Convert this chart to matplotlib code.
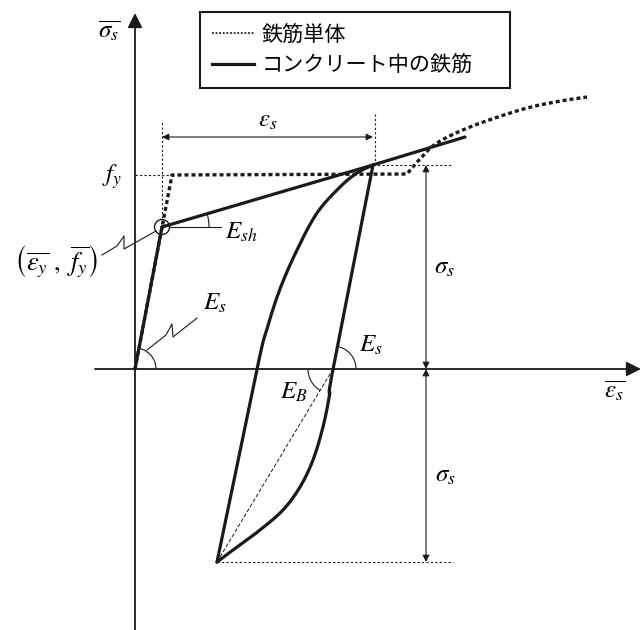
import numpy as np
import matplotlib
matplotlib.use('Agg')
import matplotlib.pyplot as plt
from matplotlib.patches import Arc, Circle
from matplotlib.lines import Line2D

plt.rcParams['font.family'] = ['Noto Sans CJK JP', 'DejaVu Sans']
plt.rcParams['mathtext.fontset'] = 'stix'

# ---------------- data (normalised strain / stress units) ----------------
# bar in concrete (solid): elastic + hardening branch
conc_elastic_x = [0.0, 0.27]
conc_elastic_y = [0.0, 1.42]
conc_hard_x = [0.27, 2.38, 3.30]
conc_hard_y = [1.42, 2.04, 2.32]
# unloading branch: straight elastic part, then curved (Bauschinger) part
unload_line_x = [2.38, 1.98]
unload_line_y = [2.04, 0.00]
unload_curve_x = [1.98, 1.945, 1.88, 1.78, 1.65, 1.48, 1.25, 1.02, 0.82]
unload_curve_y = [0.00, -0.26, -0.58, -0.91, -1.18, -1.41, -1.61, -1.78, -1.93]
# reloading branch: straight part, then curve into the peak
reload_line_x = [0.82, 1.22]
reload_line_y = [-1.93, 0.00]
reload_curve_x = [1.22, 1.32, 1.45, 1.62, 1.82, 2.05, 2.22, 2.38]
reload_curve_y = [0.00, 0.40, 0.80, 1.19, 1.56, 1.82, 1.96, 2.04]
# bare bar (dotted)
bare_x = [0.0, 0.37, 2.72, 2.85, 3.02, 3.35, 3.85, 4.20, 4.52]
bare_y = [0.0, 1.94, 1.95, 2.10, 2.26, 2.42, 2.59, 2.67, 2.72]

yield_pt = (0.27, 1.42)
peak_pt = (2.38, 2.04)
reversal_pt = (0.82, -1.93)
unload_zero_x = 1.98
fy_level = 1.94
dim_x = 2.91

legend_labels = ['鉄筋単体', 'コンクリート中の鉄筋']

# leader zigzags
leader_es_x = [0.12, 0.31, 0.37, 0.38, 0.62]
leader_es_y = [0.19, 0.34, 0.45, 0.32, 0.51]
leader_y_x = [-0.33, -0.18, -0.11, -0.11, 0.21]
leader_y_y = [1.14, 1.23, 1.33, 1.20, 1.38]


def smooth(pts, prev=None, n=24):
    pts = np.asarray(pts, float)
    first = pts[0] if prev is None else np.asarray(prev, float)
    P = np.vstack([first, pts, pts[-1]])
    out = []
    t = np.linspace(0, 1, n, endpoint=False)[:, None]
    for i in range(1, len(P) - 2):
        p0, p1, p2, p3 = P[i - 1], P[i], P[i + 1], P[i + 2]
        out.append(0.5 * ((2 * p1) + (-p0 + p2) * t + (2 * p0 - 5 * p1 + 4 * p2 - p3) * t ** 2
                          + (-p0 + 3 * p1 - 3 * p2 + p3) * t ** 3))
    out.append(pts[-1:])
    return np.vstack(out)


fig = plt.figure(figsize=(6.41, 6.30), dpi=100)
ax = fig.add_axes([0, 0, 1, 1])
ax.set_xlim(-1.35, 5.06)
ax.set_ylim(-2.61, 3.69)
ax.axis('off')

K = '#1a1a1a'
thin_dot = dict(color=K, lw=0.8, ls=(0, (2, 2)))

# axes with arrows
ax.annotate('', xy=(0, 3.56), xytext=(0, -2.61),
            arrowprops=dict(arrowstyle='-|>', color=K, lw=1.3, mutation_scale=22, shrinkA=0, shrinkB=0))
ax.annotate('', xy=(5.06, 0), xytext=(-0.40, 0),
            arrowprops=dict(arrowstyle='-|>', color=K, lw=1.3, mutation_scale=22, shrinkA=0, shrinkB=0))

# bare bar dotted
bare = smooth(list(zip(bare_x[2:], bare_y[2:])))
bx = np.concatenate([bare_x[:2], bare[:, 0]])
by = np.concatenate([bare_y[:2], bare[:, 1]])
ax.plot(bx, by, color=K, lw=2.4, ls=(0, (1.2, 0.9)), solid_capstyle='butt', zorder=3)

# bar in concrete (solid)
solid = dict(color=K, lw=2.3, zorder=4, solid_capstyle='round', solid_joinstyle='round')
ax.plot(conc_elastic_x, conc_elastic_y, **solid)
ax.plot(conc_hard_x, conc_hard_y, **solid)
u = smooth(list(zip(unload_curve_x, unload_curve_y)),
           prev=(unload_line_x[0], unload_line_y[0]))
ax.plot(np.concatenate([unload_line_x, u[:, 0]]), np.concatenate([unload_line_y, u[:, 1]]), **solid)
r = smooth(list(zip(reload_curve_x, reload_curve_y)),
           prev=(reload_line_x[0], reload_line_y[0]))
ax.plot(np.concatenate([reload_line_x, r[:, 0]]), np.concatenate([reload_line_y, r[:, 1]]), **solid)

# E_B secant (thin dashed)
ax.plot([reversal_pt[0], unload_zero_x], [reversal_pt[1], 0], color=K, lw=0.7, ls=(0, (4, 2)))

# yield circle
ax.add_patch(Circle(yield_pt, 0.075, fill=False, ec=K, lw=1.0, zorder=5))

# reference dotted lines
ax.plot([0, bare_x[1]], [fy_level, fy_level], **thin_dot)
ax.plot([yield_pt[0], yield_pt[0]], [yield_pt[1], 2.48], **thin_dot)
ax.plot([peak_pt[0] + 0.02, peak_pt[0] + 0.02], [peak_pt[1], 2.55], **thin_dot)
ax.plot([peak_pt[0], 3.16], [peak_pt[1], peak_pt[1]], **thin_dot)
ax.plot([reversal_pt[0], 3.18], [reversal_pt[1], reversal_pt[1]], **thin_dot)

# dimension arrows
dim = dict(arrowstyle='<|-|>', color=K, lw=0.8, mutation_scale=10, shrinkA=0, shrinkB=0)
ax.annotate('', xy=(yield_pt[0], 2.32), xytext=(peak_pt[0], 2.32), arrowprops=dim)
ax.annotate('', xy=(dim_x, peak_pt[1]), xytext=(dim_x, 0), arrowprops=dim)
ax.annotate('', xy=(dim_x, 0), xytext=(dim_x, reversal_pt[1]), arrowprops=dim)

# E_sh reference line & arcs
slope_e = np.degrees(np.arctan2(conc_elastic_y[1], conc_elastic_x[1]))
slope_u = np.degrees(np.arctan2(unload_line_y[0], unload_line_x[0] - unload_zero_x))
slope_h = np.degrees(np.arctan2(conc_hard_y[1] - conc_hard_y[0], conc_hard_x[1] - conc_hard_x[0]))
slope_b = np.degrees(np.arctan2(reversal_pt[1], reversal_pt[0] - unload_zero_x)) % 360
ax.plot([yield_pt[0] + 0.07, 0.86], [yield_pt[1], yield_pt[1]], color=K, lw=0.8)
ax.add_patch(Arc(yield_pt, 0.94, 0.94, theta1=0, theta2=slope_h, color=K, lw=0.8))
ax.add_patch(Arc((0, 0), 0.42, 0.42, theta1=0, theta2=slope_e, color=K, lw=0.8))
ax.add_patch(Arc((unload_zero_x, 0), 0.46, 0.46, theta1=0, theta2=slope_u, color=K, lw=0.8))
ax.add_patch(Arc((unload_zero_x, 0), 0.50, 0.50, theta1=180, theta2=slope_b, color=K, lw=0.8))

# leaders
ax.plot(leader_es_x, leader_es_y, color=K, lw=0.8)
ax.plot(leader_y_x, leader_y_y, color=K, lw=0.8)

# labels
fs = 18
ax.text(-0.26, 3.38, r'$\overline{\sigma_s}$', fontsize=fs, ha='center', va='center')
ax.text(4.80, -0.22, r'$\overline{\varepsilon_s}$', fontsize=fs, ha='center', va='center')
ax.text(-0.23, 1.92, r'$f_y$', fontsize=fs, ha='center', va='center')
ax.text(-0.79, 1.07, r'$\left(\overline{\varepsilon_y}\ ,\ \overline{f_y}\right)$', fontsize=19,
        ha='center', va='center')
ax.text(1.06, 1.37, r'$E_{sh}$', fontsize=fs, ha='center', va='center')
ax.text(0.80, 0.66, r'$E_s$', fontsize=fs, ha='center', va='center')
ax.text(2.36, 0.24, r'$E_s$', fontsize=fs, ha='center', va='center')
ax.text(1.59, -0.23, r'$E_B$', fontsize=fs, ha='center', va='center')
ax.text(1.33, 2.49, r'$\varepsilon_s$', fontsize=fs, ha='center', va='center')
ax.text(3.09, 1.02, r'$\sigma_s$', fontsize=fs, ha='center', va='center')
ax.text(3.10, -1.06, r'$\sigma_s$', fontsize=fs, ha='center', va='center')

# legend
handles = [Line2D([], [], color=K, lw=1.3, ls=(0, (1, 1))),
           Line2D([], [], color=K, lw=2.3)]
leg = ax.legend(handles, legend_labels, loc='upper left',
                bbox_to_anchor=(200 / 641, 1 - 87 / 630, 310 / 641, 75 / 630), mode='expand',
                borderaxespad=0, fancybox=False, framealpha=1, edgecolor=K, fontsize=15.2,
                handlelength=2.0, handletextpad=0.35, labelspacing=0.4, borderpad=0.55)
leg.get_frame().set_linewidth(1.5)

fig.savefig('out.png', dpi=100, facecolor='white')
